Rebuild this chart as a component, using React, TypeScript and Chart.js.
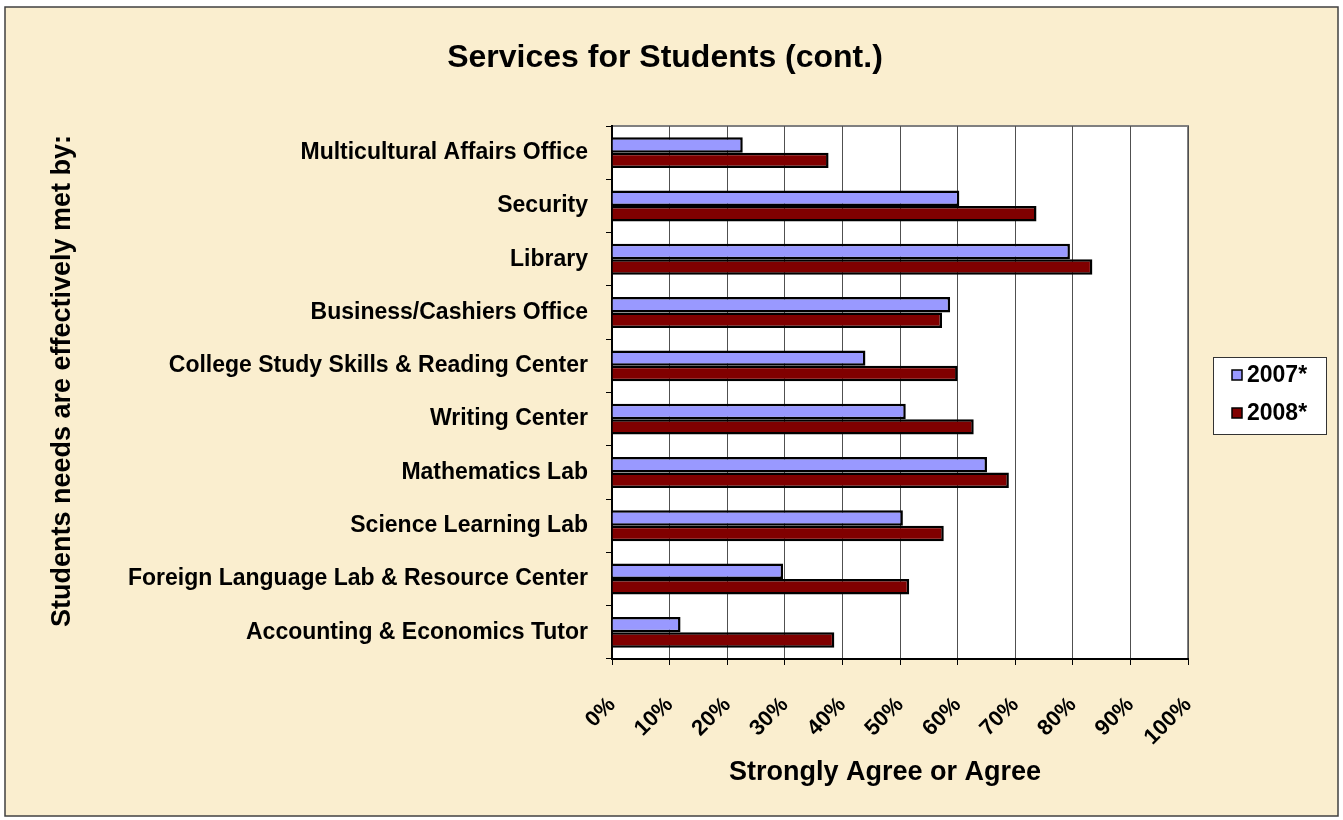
import React, { useEffect, useRef } from "react";
import { Chart, registerables } from "chart.js";

Chart.register(...registerables);

const categories = [
  "Multicultural Affairs Office",
  "Security",
  "Library",
  "Business/Cashiers Office",
  "College Study Skills & Reading Center",
  "Writing Center",
  "Mathematics Lab",
  "Science Learning Lab",
  "Foreign Language Lab & Resource Center",
  "Accounting & Economics Tutor",
];
const values2007 = [22.7, 60.3, 79.5, 58.7, 44.0, 51.0, 65.1, 50.5, 29.7, 11.9];
const values2008 = [37.6, 73.7, 83.4, 57.3, 60.0, 62.8, 68.9, 57.6, 51.6, 38.6];
const seriesLabels = ["2007*", "2008*"];
const seriesColors = ["#9999ff", "#800000"];
const chartTitle = "Services for Students (cont.)";
const xTitle = "Strongly Agree or Agree";
const yTitle = "Students needs are effectively met by:";

const FONT = "'Liberation Sans', Arial, Helvetica, sans-serif";

const decor = {
  id: "decor",
  beforeDraw(chart: any) {
    const { ctx, chartArea: a, width, height } = chart;
    ctx.save();
    ctx.fillStyle = "#ffffff";
    ctx.fillRect(0, 0, width, height);
    ctx.fillStyle = "#faeecf";
    ctx.fillRect(5, 7, 1333, 809);
    ctx.strokeStyle = "#404040";
    ctx.lineWidth = 1.5;
    ctx.strokeRect(5, 7, 1333, 809);
    ctx.fillStyle = "#ffffff";
    ctx.fillRect(a.left, a.top, a.width, a.height);
    ctx.strokeStyle = "#808080";
    ctx.lineWidth = 2;
    ctx.beginPath();
    ctx.moveTo(a.left, a.top);
    ctx.lineTo(a.right, a.top);
    ctx.lineTo(a.right, a.bottom);
    ctx.stroke();

    ctx.fillStyle = "#000";
    ctx.textAlign = "center";
    ctx.textBaseline = "middle";
    ctx.font = `bold 32px ${FONT}`;
    ctx.fillText(chartTitle, 665, 58);
    ctx.font = `bold 27px ${FONT}`;
    ctx.fillText(xTitle, 885, 773);
    ctx.save();
    ctx.translate(63, 381);
    ctx.rotate(-Math.PI / 2);
    ctx.font = `bold 27px ${FONT}`;
    ctx.fillText(yTitle, 0, 0);
    ctx.restore();
    ctx.restore();
  },
  afterDraw(chart: any) {
    const { ctx } = chart;
    ctx.save();
    const bx = 1213, by = 357, bw = 113, bh = 77;
    ctx.fillStyle = "#ffffff";
    ctx.fillRect(bx, by, bw, bh);
    ctx.strokeStyle = "#333";
    ctx.lineWidth = 1;
    ctx.strokeRect(bx + 0.5, by + 0.5, bw, bh);
    const ys = [375, 413];
    chart.data.datasets.forEach((ds: any, i: number) => {
      const y = ys[i];
      ctx.fillStyle = ds.backgroundColor;
      ctx.fillRect(1232, y - 5, 10, 10);
      ctx.strokeStyle = "#000";
      ctx.lineWidth = 1.5;
      ctx.strokeRect(1232, y - 5, 10, 10);
      ctx.fillStyle = "#000";
      ctx.font = `bold 23px ${FONT}`;
      ctx.textAlign = "left";
      ctx.textBaseline = "middle";
      ctx.fillText(ds.label, 1247, y + 1);
    });
    ctx.restore();
  },
};

export default function App() {
  const ref = useRef<HTMLCanvasElement>(null);
  useEffect(() => {
    document.body.style.margin = "0";
    const chart = new Chart(ref.current!, {
      type: "bar",
      data: {
        labels: categories,
        datasets: [
          {
            label: seriesLabels[0],
            data: values2007,
            backgroundColor: seriesColors[0],
            borderColor: "#000",
            borderWidth: 2.5,
          },
          {
            label: seriesLabels[1],
            data: values2008,
            backgroundColor: seriesColors[1],
            borderColor: "#000",
            borderWidth: 2.5,
          },
        ],
      },
      options: {
        indexAxis: "y",
        animation: false,
        responsive: false,
        maintainAspectRatio: false,
        datasets: { bar: { categoryPercentage: 0.58, barPercentage: 1.0 } },
        layout: { padding: { left: 0, top: 126, right: 155, bottom: 0 } },
        plugins: {
          legend: { display: false },
          title: { display: false },
          tooltip: { enabled: false },
        },
        scales: {
          x: {
            min: 0,
            max: 100,
            ticks: {
              stepSize: 10,
              autoSkip: false,
              maxRotation: 45,
              minRotation: 45,
              padding: 27,
              color: "#000",
              font: { family: FONT, size: 22, weight: "bold" },
              callback: (v: any) => `${v}%`,
            },
            grid: {
              color: "#505050",
              lineWidth: 1,
              tickColor: "#000",
              tickLength: 6,
            },
            border: { color: "#000", width: 2 },
            afterFit: (s: any) => {
              s.height = 161;
            },
          },
          y: {
            ticks: {
              color: "#000",
              padding: 18,
              font: { family: FONT, size: 23, weight: "bold" },
            },
            grid: {
              drawOnChartArea: false,
              offset: true,
              tickColor: "#000",
              tickLength: 6,
            },
            border: { color: "#000", width: 2 },
            afterFit: (s: any) => {
              s.width = 612;
            },
          },
        },
      },
      plugins: [decor],
    });
    return () => chart.destroy();
  }, []);
  return <canvas ref={ref} width={1343} height={820} style={{ display: "block" }} />;
}
